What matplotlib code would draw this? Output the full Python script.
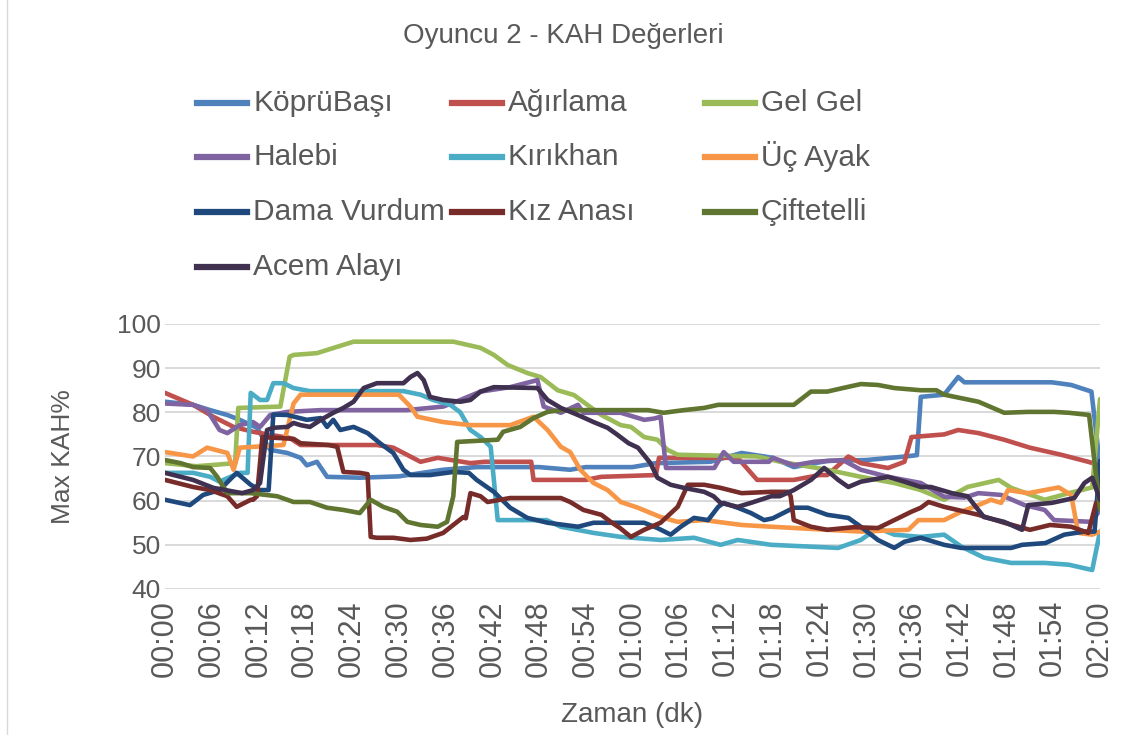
import matplotlib.pyplot as plt
from matplotlib.lines import Line2D

plt.rcParams['font.family'] = ['Liberation Sans', 'DejaVu Sans']

# minutes since start / Max KAH %
kopru_t = [0, 3.6, 5.8, 8, 9.6, 11.8, 13.5, 15.7, 17.4, 18.2, 19.5, 20.8, 25, 30, 35.7, 40, 48, 52, 54, 60,
           63, 70, 74, 78, 80.7, 85, 90, 95, 96.5, 97, 100, 101.8, 102.6, 113.8, 116.3, 118.9, 120]
kopru_v = [82.4, 81.7, 80.5, 79.4, 78.3, 76.5, 71.5, 70.8, 69.7, 68, 68.8, 65.4, 65.2, 65.5, 67, 67.6, 67.6, 67, 67.6, 67.6,
           68.5, 68.8, 70.8, 69.7, 67.6, 69, 69.2, 70, 70.3, 83.5, 84, 88, 86.8, 86.8, 86.2, 84.7, 68]

agir_t = [0, 3.6, 6.2, 8.8, 11.3, 13.5, 16, 17.4, 20, 27.2, 29.3, 32.8, 35, 39.2, 41, 47, 47.3, 54, 56, 63,
          63.4, 73.5, 76, 80.7, 84, 85, 87.7, 89.3, 92.8, 94.9, 95.8, 100, 101.8, 104.4, 107.7, 111, 115, 118.5, 120]
agir_v = [84.4, 81.7, 79, 76.7, 75.6, 74.9, 74.2, 72.6, 72.6, 72.6, 72, 68.8, 69.7, 68.5, 68.8, 68.8, 64.7, 64.7, 65.4, 65.8,
          69.7, 69.7, 64.7, 64.7, 65.8, 65.8, 70, 68.5, 67.4, 68.8, 74.4, 75, 76, 75.3, 73.8, 72, 70.4, 68.8, 68]

gelgel_t = [0, 4, 7, 9, 9.4, 14.8, 16, 16.5, 19.5, 24.2, 37, 39.5, 40.5, 42.2, 44, 46.5, 48.2, 50.4, 52.5, 54.2,
            56, 58.5, 59.8, 61.5, 63.2, 64.5, 65.8, 76, 79, 85, 89.3, 93.6, 97, 100, 103, 107, 108.6, 112.9, 116, 119, 120]
gelgel_v = [68.5, 67.8, 68.2, 68.5, 81, 81.3, 92.6, 93, 93.4, 96, 96, 95, 94.6, 93, 90.7, 88.9, 88, 85, 83.9, 81.7,
            79.4, 77.1, 76.7, 74.4, 73.8, 71.5, 70.4, 70, 68.8, 67, 65.4, 64, 62.4, 60.2, 63.1, 64.7, 62.9, 60.2, 61.7, 63, 83]

halebi_t = [0, 3.6, 5.4, 7, 8, 9.6, 11.3, 12.2, 13.5, 15.7, 20, 31, 35.7, 37.9, 40.5, 44.3, 47.8, 48.6, 50.8, 53,
            53.7, 58.5, 61.5, 62.8, 63.6, 64.3, 70.5, 71.7, 73, 77.5, 78, 80.7, 83.3, 87, 89.3, 92.8, 97, 100, 102.6, 104.4,
            107.3, 110.3, 112.9, 114.1, 119, 120]
halebi_v = [82, 81.7, 80.5, 76, 75.3, 77.1, 77.8, 76.7, 79.4, 80.1, 80.5, 80.5, 81.3, 82.8, 84.7, 85.7, 87.3, 81.3, 79.9, 81.7,
            79.9, 79.9, 78.3, 78.6, 79, 67.4, 67.4, 71, 68.8, 68.8, 69.7, 68, 68.8, 69.2, 67, 65.4, 64, 60.9, 60.7, 61.7,
            61.3, 59, 57.9, 55.6, 55.2, 58]

kirik_t = [0, 3.6, 5.8, 7, 8.4, 9.6, 10.6, 11, 12.2, 13.1, 13.9, 15.2, 16.5, 18.6, 30.6, 32.8, 34.4, 36.6, 37.9, 39.2,
           40.5, 41.8, 42.7, 49, 50.8, 55, 58.5, 63.6, 67.9, 71.3, 73.5, 77.8, 86.4, 89.3, 91.5, 93.6, 97, 100, 102.2, 105.1,
           108.6, 112.9, 116, 119, 120]
kirik_v = [66.3, 66.3, 65.4, 64.3, 65.4, 66.3, 66.3, 84.4, 82.8, 82.8, 86.6, 86.6, 85.5, 84.8, 84.8, 84, 82.8, 81.7, 80, 76,
           74.4, 72.2, 55.6, 55.6, 54.1, 52.7, 51.8, 51.1, 51.6, 50, 51.1, 50, 49.3, 51.1, 53.8, 52.3, 51.8, 52.3, 49.6, 47.1,
           45.9, 45.9, 45.5, 44.3, 53]

ucayak_t = [0, 3.6, 5.4, 8, 8.8, 9.6, 15.2, 16.5, 17.4, 30, 31.5, 32.4, 35.7, 39.2, 44.3, 47.3, 49.1, 50.8, 52, 53.3,
            55, 56.8, 58.5, 60.7, 63.6, 65.8, 69.2, 74, 77.8, 85, 89.3, 95.4, 96.7, 100, 102.2, 104.4, 106, 107.3, 108.2, 110.8,
            114.7, 116.3, 117.2, 119, 120]
ucayak_v = [71, 70, 72, 70.8, 67, 72, 72.6, 82, 84, 84, 81.3, 79, 77.8, 77.1, 77.1, 79, 76, 72.2, 71, 67,
            64, 62.4, 59.7, 58.4, 56.3, 55.2, 55.6, 54.5, 54.1, 53.4, 53, 53.4, 55.6, 55.6, 57.5, 59, 60.2, 59.5, 62.4, 61.7,
            63, 61.3, 52.7, 52.3, 53]

dama_t = [0, 3.2, 4.9, 7, 9.2, 11, 12.2, 13.3, 13.9, 15.7, 18.2, 20, 20.8, 21.6, 22.5, 24.2, 26, 27.6, 29.3, 30.6,
          31.5, 34, 37, 39, 40, 42.2, 44.3, 46.5, 49.1, 53, 55, 61.5, 63.2, 64.9, 66.2, 67.9, 69.7, 71, 71.7, 73.5,
          75.2, 76.9, 78, 80.7, 82.5, 85, 87.7, 89.3, 91.5, 93.6, 94.9, 97, 100, 102.2, 108.6, 110, 113, 115.4, 118, 119.3, 120]
dama_v = [60.2, 59, 61.3, 62.4, 66.3, 63.6, 62.4, 62.4, 79.5, 79.4, 78.3, 78.7, 76.7, 78.3, 76, 76.7, 75.3, 73, 70.8, 67,
          65.8, 65.8, 66.5, 66.3, 64.7, 62, 58.4, 56.1, 55, 54.1, 55, 55, 53.8, 52.3, 54.1, 56.1, 55.6, 58.6, 59.5, 58.4,
          57.2, 55.6, 56, 58.4, 58.4, 56.8, 56.1, 54.1, 51.1, 49.3, 50.7, 51.6, 50, 49.3, 49.3, 50, 50.4, 52.3, 53, 53, 69]

kiz_t = [0, 3.6, 5.8, 8, 9.2, 11, 11.3, 11.8, 12.5, 16.5, 17.4, 21, 22.1, 22.9, 25, 26, 26.4, 27.2, 29.3, 31.5,
         33.6, 35.7, 37.5, 38.3, 38.6, 39.2, 40.5, 41.4, 44.3, 50.8, 52, 53.7, 56, 57.2, 58.4, 59.8, 61.5, 63.6, 65.8, 67.1,
         69.2, 71.3, 74, 77.8, 80, 80.3, 80.7, 82.9, 85, 88.4, 91.5, 93.6, 95.8, 97, 98, 100, 104.4, 107.7, 111, 113.6,
         116.3, 118.5, 119.5, 120]
kiz_v = [64.7, 63.1, 62.4, 61, 58.6, 60.2, 60.2, 61, 74.4, 74, 73, 72.6, 72.2, 66.5, 66.3, 66, 51.8, 51.6, 51.6, 51.1,
         51.4, 52.7, 55.2, 56.3, 56, 61.7, 61, 59.7, 60.6, 60.6, 59.7, 57.9, 56.8, 55.2, 53.8, 51.8, 53.4, 55, 58.6, 63.6,
         63.6, 62.9, 61.7, 62, 62, 61, 55.6, 54.1, 53.4, 54, 53.8, 55.6, 57.5, 58.4, 59.7, 58.6, 56.8, 55, 53.4, 54.5,
         54.1, 52.7, 59.5, 59]

cifte_t = [0, 2, 3.6, 5.8, 6.7, 8, 11, 14.4, 16.5, 18.6, 20.8, 22.9, 25, 26.4, 28, 29.8, 31.1, 32.8, 35, 36.2,
           37, 37.5, 42.7, 43.4, 45.6, 47.3, 49.1, 50.8, 62, 64, 66.6, 69.2, 71, 78.5, 80.7, 82.9, 85, 87, 89.3, 91.5,
           93.6, 97, 99, 100, 104.4, 107.7, 110.8, 114.1, 116, 118.6, 120]
cifte_v = [69.2, 68.5, 67.6, 67.4, 65.4, 61.7, 61.7, 61, 59.7, 59.7, 58.4, 57.9, 57.2, 60.2, 58.6, 57.5, 55.2, 54.5, 54.1, 55.2,
           61, 73.3, 73.8, 75.6, 76.7, 78.7, 80.1, 80.5, 80.5, 79.9, 80.5, 81, 81.7, 81.7, 81.7, 84.7, 84.7, 85.5, 86.4, 86.2,
           85.5, 85, 85, 84, 82.4, 79.9, 80.1, 80.1, 79.9, 79.4, 58]

acem_t = [0, 3.6, 6.2, 9.9, 11.3, 12.2, 13.1, 13.9, 15.7, 16.5, 17.4, 18.6, 20, 21.6, 22.9, 24.2, 25.5, 27.2, 30.6, 31.5,
          32.4, 33.2, 34, 35.7, 37.9, 39.2, 40.5, 42.2, 47.8, 49.1, 50.8, 53, 55, 56.8, 58, 59.5, 60.7, 62.3, 63.2, 64.9,
          66.6, 69.2, 70.4, 71.3, 73.5, 75.2, 77.8, 78.9, 80.7, 82.9, 84.6, 86.4, 87.7, 89.3, 92.8, 94.9, 97, 98.3, 101, 103,
          105.1, 107.7, 110, 110.8, 113.8, 116.7, 118, 119, 120]
acem_v = [66.3, 64.7, 62.9, 61.7, 62.4, 64, 76, 76.5, 76.7, 77.6, 77.1, 76.7, 78.3, 79.9, 81, 82.4, 85.5, 86.6, 86.6, 88,
          88.9, 87.3, 83.5, 82.8, 82.4, 82.8, 84.7, 85.7, 85.5, 82.8, 81, 79.4, 77.8, 76.5, 75, 73, 72, 68.5, 65.2, 63.6,
          62.9, 62, 61, 59.5, 58.6, 59.5, 61, 61, 62.4, 64.7, 67.4, 64.7, 63.1, 64.3, 65.4, 64.3, 63.1, 63.1, 61.7, 61,
          56.3, 55.2, 53.4, 59, 59.5, 60.6, 64, 65.2, 60.2]

names = ['KöprüBaşı', 'Ağırlama', 'Gel Gel', 'Halebi', 'Kırıkhan', 'Üç Ayak',
         'Dama Vurdum', 'Kız Anası', 'Çiftetelli', 'Acem Alayı']
series = [(kopru_t, kopru_v), (agir_t, agir_v), (gelgel_t, gelgel_v), (halebi_t, halebi_v),
          (kirik_t, kirik_v), (ucayak_t, ucayak_v), (dama_t, dama_v), (kiz_t, kiz_v),
          (cifte_t, cifte_v), (acem_t, acem_v)]
colors = ['#4F81BD', '#C0504D', '#9BBB59', '#8064A2', '#4BACC6', '#F79646',
          '#1F497D', '#772C2A', '#5F7530', '#403151']

x_ticks = list(range(0, 121, 6))
x_labels = ['%02d:%02d' % (m // 60, m % 60) for m in x_ticks]
y_ticks = [40, 50, 60, 70, 80, 90, 100]

txt = '#595959'
W, H = 1125, 735
fig = plt.figure(figsize=(W / 100, H / 100), dpi=100)
ax = fig.add_axes([165 / W, 1 - 589 / H, 935 / W, 265 / H])

for (t, v), c in zip(series, colors):
    ax.plot(t, v, color=c, lw=3.3, solid_joinstyle='round', solid_capstyle='round')

ax.set_xlim(0, 120)
ax.set_ylim(40, 100)
ax.set_yticks(y_ticks)
ax.set_xticks(x_ticks)
ax.set_xticklabels(x_labels, rotation=90)
ax.tick_params(length=0, labelcolor=txt)
ax.tick_params(axis='x', pad=8, labelsize=22)
ax.tick_params(axis='y', pad=3, labelsize=19)
ax.grid(axis='y', color='#D9D9D9', lw=1.4)
ax.set_axisbelow(True)
for s in ax.spines.values():
    s.set_visible(False)

ax.set_xlabel('Zaman (dk)', fontsize=20, color=txt, labelpad=18)
ax.set_ylabel('Max KAH%', fontsize=19, color=txt, labelpad=30)

fig.text(563 / W, 1 - 36 / H, 'Oyuncu 2 - KAH Değerleri', ha='center', va='center',
         fontsize=20, color=txt)

# legend, three columns
col_x = [197, 452, 705]
row_y = [103, 157, 212, 267]
for i, (name, c) in enumerate(zip(names, colors)):
    cx = col_x[i % 3]
    ry = row_y[i // 3]
    fig.add_artist(Line2D([cx / W, (cx + 50) / W], [1 - ry / H, 1 - ry / H],
                          color=c, lw=4.5, transform=fig.transFigure))
    fig.text((cx + 56) / W, 1 - ry / H, name, ha='left', va='center',
             fontsize=21.5, color=txt)

fig.add_artist(Line2D([7 / W, 7 / W], [0, 1], color='#D9D9D9', lw=1,
                      transform=fig.transFigure))

fig.savefig('out.png', dpi=100, facecolor='white')
